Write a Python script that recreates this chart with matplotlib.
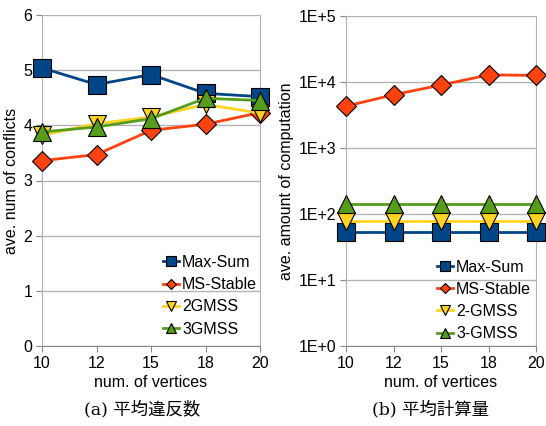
import numpy as np
import matplotlib.pyplot as plt
from matplotlib.ticker import FixedLocator, NullLocator

plt.rcParams['font.family'] = ['Liberation Sans', 'DejaVu Sans']

vertices = ["10", "12", "15", "18", "20"]

# (a) average number of conflicts
conf_maxsum = [5.04, 4.74, 4.92, 4.58, 4.52]
conf_msstable = [3.36, 3.47, 3.91, 4.02, 4.23]
conf_2gmss = [3.82, 4.03, 4.15, 4.38, 4.22]
conf_3gmss = [3.88, 3.97, 4.12, 4.49, 4.45]

# (b) average amount of computation
comp_maxsum = [54, 54, 54, 54, 54]
comp_msstable = [4300, 6400, 9000, 12800, 12600]
comp_2gmss = [78, 78, 78, 78, 78]
comp_3gmss = [140, 140, 140, 140, 140]

blue, red, yellow, green = "#004586", "#ff420e", "#ffd320", "#579d1c"
grid_c = "#b3b3b3"
FS = 11.5

W, H = 546, 426
fig = plt.figure(figsize=(W / 100, H / 100), dpi=100)


def px_axes(x0, y0, x1, y1):
    return fig.add_axes([x0 / W, 1 - y1 / H, (x1 - x0) / W, (y1 - y0) / H])


def style(ax):
    for s in ["right", "left", "bottom"]:
        ax.spines[s].set_color(grid_c)
    ax.spines["top"].set_visible(False)
    ax.spines["bottom"].set_color("#888888")
    ax.grid(axis="y", color=grid_c, linewidth=1)
    ax.set_axisbelow(True)
    ax.tick_params(axis="both", labelsize=FS, color="#888888", length=4, pad=3)


def draw(ax, series):
    for name, vals, c, m, ms in series:
        ax.plot(x, vals, color=c, marker=m, markersize=ms, markeredgecolor="black",
                markeredgewidth=0.8, linewidth=2, label=name, clip_on=False,
                zorder=3)


x = np.arange(len(vertices))

ax1 = px_axes(42, 15, 260, 346)
draw(ax1, [
    ("Max-Sum", conf_maxsum, blue, "s", 13),
    ("MS-Stable", conf_msstable, red, "D", 10),
    ("2GMSS", conf_2gmss, yellow, "v", 13),
    ("3GMSS", conf_3gmss, green, "^", 13),
])
ax1.set_xlim(0, len(vertices) - 1)
ax1.set_ylim(0, 6)
ax1.set_xticks(x)
ax1.set_xticklabels(vertices)
ax1.set_yticks(range(0, 7))
style(ax1)
ax1.set_ylabel("ave. num of conflicts", fontsize=FS, labelpad=3)
ax1.set_xlabel("num. of vertices", fontsize=FS, labelpad=3)
ax1.legend(loc="upper left", bbox_to_anchor=(0.555, 0.275), frameon=False,
           fontsize=FS, handlelength=1.0, handletextpad=0.2, borderpad=0,
           labelspacing=0.45, borderaxespad=0, markerscale=0.55)

ax2 = px_axes(346, 16, 536, 346)
draw(ax2, [
    ("Max-Sum", comp_maxsum, blue, "s", 13),
    ("MS-Stable", comp_msstable, red, "D", 10),
    ("2-GMSS", comp_2gmss, yellow, "v", 13),
    ("3-GMSS", comp_3gmss, green, "^", 13),
])
ax2.set_yscale("log")
ax2.set_xlim(0, len(vertices) - 1)
ax2.set_ylim(1, 1e5)
ax2.set_xticks(x)
ax2.set_xticklabels(vertices)
ax2.yaxis.set_major_locator(FixedLocator([1, 10, 100, 1000, 1e4, 1e5]))
ax2.yaxis.set_minor_locator(NullLocator())
ax2.set_yticklabels(["1E+0", "1E+1", "1E+2", "1E+3", "1E+4", "1E+5"])
style(ax2)
ax2.set_ylabel("ave. amount of computation", fontsize=FS, labelpad=3)
ax2.set_xlabel("num. of vertices", fontsize=FS, labelpad=3)
ax2.legend(loc="upper left", bbox_to_anchor=(0.479, 0.262), frameon=False,
           fontsize=FS, handlelength=1.0, handletextpad=0.2, borderpad=0,
           labelspacing=0.45, borderaxespad=0, markerscale=0.55)

cap_font = ['DejaVu Serif', 'Noto Sans CJK JP']
fig.text(142 / W, 1 - 410 / H, "(a) 平均違反数", ha="center", va="center",
         fontsize=12.5, family=cap_font)
fig.text(430 / W, 1 - 410 / H, "(b) 平均計算量", ha="center", va="center",
         fontsize=12.5, family=cap_font)

fig.savefig("out.png", dpi=100)
